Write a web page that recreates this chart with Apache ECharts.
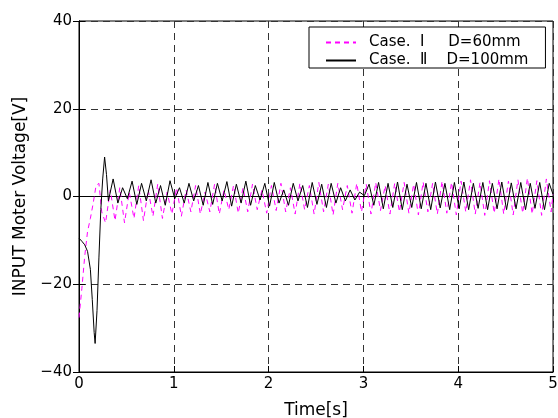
<!DOCTYPE html>
<html><head><meta charset="utf-8">
<script src="https://cdn.jsdelivr.net/npm/echarts@6/dist/echarts.min.js"></script>
<style>html,body{margin:0;padding:0;background:#fff}#c{width:558px;height:418px}</style>
</head><body><div id="c"></div>
<script>
var xTicks = [0, 1, 2, 3, 4, 5];
var yTicks = [-40, -20, 0, 20, 40];
var seriesNames = ['Case.  Ⅰ     D=60mm', 'Case.  Ⅱ    D=100mm'];
// Case I (D=60mm): [time s, voltage V]
var caseI = [
[0.00,-27.6],[0.03,-21],[0.06,-13.7],[0.09,-8],[0.12,-5],[0.15,-1.5],[0.18,2.5],[0.21,3.0],[0.24,-3.5],
[0.28,-6.0],[0.33,1.5],[0.38,-5.5],[0.43,2.0],[0.48,-6.0],[0.53,1.0],[0.58,-5.0],[0.63,2.5],[0.68,-5.5],
[0.73,1.5],[0.78,-4.5],[0.83,2.8],[0.88,-5.0],[0.93,1.0],[0.98,-4.0],[1.03,2.0],[1.08,-4.5],[1.13,1.5],
[1.18,-3.5],[1.23,2.5],[1.28,-4.0],[1.33,1.0],[1.38,-3.5],[1.43,2.8],[1.48,-4.0],[1.53,1.5],[1.58,-3.0],
[1.63,2.5],[1.68,-3.8],[1.73,2.0],[1.78,-3.5],[1.83,2.8],[1.88,-3.0],[1.93,1.5],[1.98,-3.8],[2.03,2.5],
[2.08,-3.2],[2.13,3.0],[2.18,-3.5],[2.23,2.0],[2.28,-4.0],[2.33,3.0],[2.38,-3.0],[2.43,2.5],[2.48,-4.0],
[2.53,3.2],[2.58,-3.5],[2.63,2.8],[2.68,-4.2],[2.73,3.0],[2.78,-3.0],[2.83,2.5],[2.88,-3.8],[2.93,3.0],
[2.98,-3.5],[3.03,2.8],[3.08,-4.0],[3.13,3.2],[3.18,-3.2],[3.23,2.5],[3.28,-4.0],[3.33,3.0],[3.38,-3.5],
[3.43,3.2],[3.48,-3.8],[3.53,2.8],[3.58,-4.2],[3.63,3.3],[3.68,-3.5],[3.73,3.0],[3.78,-4.0],[3.83,3.5],
[3.88,-3.8],[3.93,3.2],[3.98,-4.2],[4.03,3.5],[4.08,-3.5],[4.13,3.8],[4.18,-4.0],[4.23,3.2],[4.28,-4.3],
[4.33,3.6],[4.38,-3.8],[4.43,4.0],[4.48,-4.0],[4.53,3.5],[4.58,-4.2],[4.63,3.8],[4.68,-3.8],[4.73,4.2],
[4.78,-4.0],[4.83,3.6],[4.88,-4.3],[4.93,4.0],[4.98,-3.5],[5.00,0.5]
];
// Case II (D=100mm): [time s, voltage V]
var caseII = [
[0.00,-9.5],[0.03,-10.2],[0.06,-11],[0.09,-12.5],[0.12,-16.6],[0.14,-23.5],[0.16,-31],[0.17,-33.5],
[0.19,-26],[0.21,-14],[0.23,-3],[0.25,4],[0.27,9],[0.29,5],[0.31,-1],
[0.36,4.0],[0.41,-1.5],[0.46,2.0],[0.51,-0.5],[0.56,3.5],[0.61,-1.8],[0.66,3.0],[0.71,-1.0],[0.76,3.8],
[0.81,-1.5],[0.86,2.5],[0.91,-2.0],[0.96,3.6],[1.01,-0.5],[1.06,2.0],[1.11,-1.5],[1.16,3.0],[1.21,-1.0],
[1.26,2.5],[1.31,-2.0],[1.36,3.2],[1.41,-1.8],[1.46,3.0],[1.51,-1.0],[1.56,3.4],[1.61,-2.2],[1.66,2.8],
[1.71,-1.5],[1.76,3.5],[1.81,-2.0],[1.86,2.5],[1.91,-0.8],[1.96,3.0],[2.01,-2.2],[2.06,3.2],[2.11,-1.5],
[2.16,1.5],[2.21,-2.0],[2.26,3.0],[2.31,-1.0],[2.36,2.5],[2.41,-2.5],[2.46,3.2],[2.51,-1.8],[2.56,2.8],
[2.61,-2.5],[2.66,3.0],[2.71,-1.5],[2.76,2.0],[2.81,-1.0],[2.86,1.5],[2.91,-0.8],[2.96,1.0],[3.01,0.2],
[3.06,2.8],[3.11,-2.0],[3.16,3.2],[3.21,-2.8],[3.26,3.0],[3.31,-2.5],[3.36,3.3],[3.41,-3.0],[3.46,2.8],
[3.51,-2.5],[3.56,3.2],[3.61,-2.8],[3.66,3.0],[3.71,-3.0],[3.76,3.3],[3.81,-2.6],[3.86,3.0],[3.91,-3.0],
[3.96,3.2],[4.01,-2.8],[4.06,3.3],[4.11,-3.0],[4.16,3.0],[4.21,-2.7],[4.26,3.2],[4.31,-3.0],[4.36,3.0],
[4.41,-2.8],[4.46,3.3],[4.51,-3.0],[4.56,3.1],[4.61,-2.8],[4.66,3.2],[4.71,-3.0],[4.76,3.0],[4.81,-2.7],
[4.86,3.2],[4.91,-3.0],[4.96,3.0],[5.00,0.5]
];

var FONT = '"DejaVu Sans", sans-serif';
var chart = echarts.init(document.getElementById('c'), null, {renderer: 'canvas'});
var gridDash = {color: '#333', type: [7, 5], width: 1};
function fmt(v) { return String(v).replace('-', '\u2212'); }
chart.setOption({
  animation: false,
  backgroundColor: '#fff',
  grid: {left: 79, right: 5, top: 21, bottom: 46, containLabel: false, outerBoundsMode: 'none',
    show: true, borderColor: '#000', borderWidth: 1, backgroundColor: 'transparent'},
  legend: {
    data: seriesNames, orient: 'vertical', left: 309, top: 27,
    padding: [8, 17, 0, 16], itemGap: 3, itemWidth: 30, itemHeight: 14,
    backgroundColor: '#fff', borderColor: '#000', borderWidth: 1, borderRadius: 0,
    itemStyle: {opacity: 0, borderWidth: 0},
    textStyle: {fontFamily: FONT, fontSize: 15, color: '#000', lineHeight: 14, padding: [0, 0, 0, 8]}
  },
  xAxis: [{
    type: 'value', min: xTicks[0], max: xTicks[xTicks.length - 1], interval: 1,
    name: 'Time[s]', nameLocation: 'middle', nameGap: 30,
    nameTextStyle: {fontFamily: FONT, fontSize: 17, color: '#000'},
    axisLine: {show: true, onZero: false, lineStyle: {color: '#000'}},
    axisTick: {show: true, inside: true, length: 6, lineStyle: {color: '#000'}},
    axisLabel: {fontFamily: FONT, fontSize: 15, color: '#000', margin: 5, formatter: fmt},
    splitLine: {show: true, lineStyle: gridDash}
  }, {
    type: 'value', position: 'top', min: xTicks[0], max: xTicks[xTicks.length - 1], interval: 1,
    axisLine: {show: true, lineStyle: {color: '#000'}},
    axisTick: {show: true, inside: true, length: 6, lineStyle: {color: '#000'}},
    axisLabel: {show: false}, splitLine: {show: false}
  }],
  yAxis: [{
    type: 'value', min: yTicks[0], max: yTicks[yTicks.length - 1], interval: 20,
    name: 'INPUT Moter Voltage[V]', nameLocation: 'middle', nameGap: 45,
    nameTextStyle: {fontFamily: FONT, fontSize: 17, color: '#000'},
    axisLine: {show: true, onZero: false, lineStyle: {color: '#000'}},
    axisTick: {show: true, inside: true, length: 6, lineStyle: {color: '#000'}},
    axisLabel: {fontFamily: FONT, fontSize: 15, color: '#000', margin: 7, formatter: fmt},
    splitLine: {show: true, lineStyle: gridDash}
  }, {
    type: 'value', position: 'right', min: yTicks[0], max: yTicks[yTicks.length - 1], interval: 20,
    axisLine: {show: true, lineStyle: {color: '#000'}},
    axisTick: {show: true, inside: true, length: 6, lineStyle: {color: '#000'}},
    axisLabel: {show: false}, splitLine: {show: false}
  }],
  series: [{
    name: seriesNames[0], type: 'line', data: caseI, showSymbol: false, symbol: 'none',
    lineStyle: {color: '#ff00ff', width: 1, type: [5, 4]}, itemStyle: {color: '#ff00ff'}, z: 2
  }, {
    name: seriesNames[1], type: 'line', data: caseII, showSymbol: false, symbol: 'none',
    lineStyle: {color: '#000', width: 1}, itemStyle: {color: '#000'}, z: 3
  }]
});
</script></body></html>
